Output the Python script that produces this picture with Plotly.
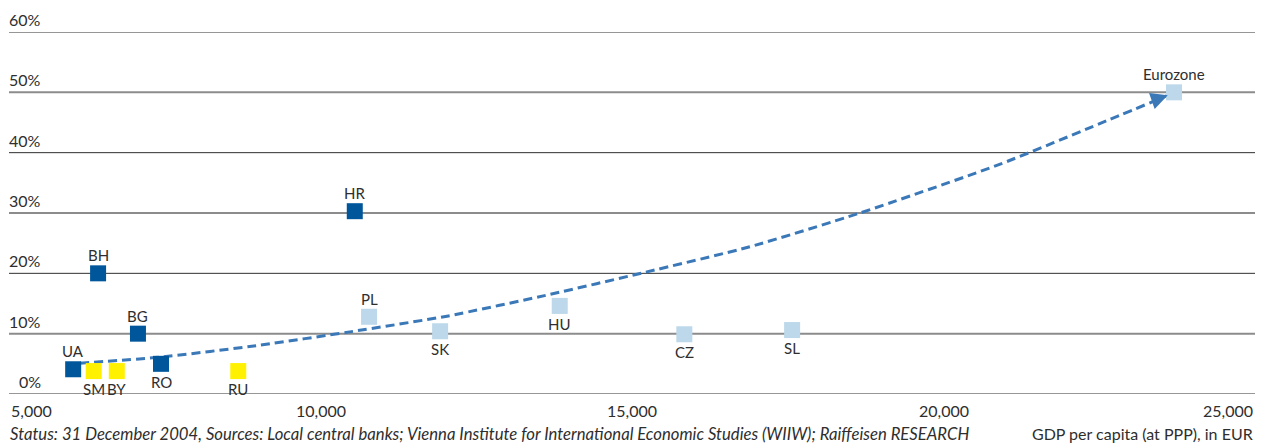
import plotly.graph_objects as go

# ---------------- data ----------------
countries = ["UA", "SM", "BY", "BH", "BG", "RO", "RU", "HR", "PL", "SK", "HU", "CZ", "SL", "Eurozone"]
gdp_per_capita = [6030, 6360, 6730, 6430, 7070, 7440, 8680, 10550, 10780, 11920, 13840, 15840, 17570, 23700]
loans_ratio = [4.1, 3.8, 3.8, 20.0, 10.0, 5.0, 3.8, 30.3, 12.8, 10.4, 14.6, 9.9, 10.6, 50.0]
country_group = ["dark", "yellow", "yellow", "dark", "dark", "dark", "yellow", "dark",
                 "light", "light", "light", "light", "light", "light"]
label_side = ["above", "below", "below", "above", "above", "below", "below", "above",
              "above", "below", "below", "below", "below", "above"]

trend_x = [6140, 7420, 9030, 10470, 12030, 13680, 15180, 16890, 18660, 20910, 22670, 23600]
trend_y = [5.1, 6.1, 8.1, 10.3, 12.9, 16.5, 20.1, 24.4, 30.0, 38.1, 45.5, 49.5]

y_ticks = [0, 10, 20, 30, 40, 50, 60]
y_tick_labels = ["0%", "10%", "20%", "30%", "40%", "50%", "60%"]
x_ticks = [5000, 10000, 15000, 20000, 25000]
x_tick_labels = ["5,000", "10,000", "15,000", "20,000", "25,000"]

source_text = ("Status: 31 December 2004, Sources: Local central banks; Vienna Institute for "
               "International Economic Studies (WIIW); Raiffeisen RESEARCH")
axis_title = "GDP per capita (at PPP), in EUR"

# ---------------- styles ----------------
FONT = "Lato"
TXT = "#2e2e2e"
group_colors = {"dark": "#00569b", "yellow": "#fff100", "light": "#bcd8ea"}
TREND = "#3a78b8"

fig = go.Figure()

# trend line (dashed)
fig.add_trace(go.Scatter(
    x=trend_x, y=trend_y, mode="lines",
    line=dict(color=TREND, width=3, dash="9px,5px", shape="spline", smoothing=0.6),
    hoverinfo="skip", showlegend=False))

# markers by group
for g in ["dark", "yellow", "light"]:
    idx = [i for i, c in enumerate(country_group) if c == g]
    fig.add_trace(go.Scatter(
        x=[gdp_per_capita[i] for i in idx],
        y=[loans_ratio[i] for i in idx],
        text=[countries[i] for i in idx],
        mode="markers",
        marker=dict(symbol="square", size=16, color=group_colors[g], line=dict(width=0)),
        showlegend=False))

annotations = []
shapes = []

# arrowhead at trend end
annotations.append(dict(
    x=trend_x[-1], y=trend_y[-1], xref="x", yref="y",
    ax=-17, ay=6, axref="pixel", ayref="pixel",
    text="", showarrow=True, arrowhead=2, arrowsize=1.3, arrowwidth=2.6,
    arrowcolor=TREND, standoff=0))

# point labels
for name, xv, yv, side in zip(countries, gdp_per_capita, loans_ratio, label_side):
    annotations.append(dict(
        x=xv, y=yv, xref="x", yref="y", text=name, showarrow=False,
        font=dict(family=FONT, size=15, color=TXT),
        yanchor="bottom" if side == "above" else "top",
        yshift=7 if side == "above" else -7))

# gridlines (alternating tone as in the reference)
for k, t in enumerate(y_ticks):
    dark = (k % 2 == 0)
    shapes.append(dict(
        type="line", xref="paper", yref="y", x0=0, x1=1, y0=t, y1=t,
        line=dict(color="#2f2f2f" if dark else "#8c8c8c", width=1 if dark else 2),
        layer="below"))

# y tick labels (above gridlines)
for t, lab in zip(y_ticks, y_tick_labels):
    annotations.append(dict(
        x=0, y=t, xref="paper", yref="y", text=lab, showarrow=False,
        xanchor="right", xshift=34, yanchor="bottom", yshift=1,
        font=dict(family=FONT, size=16, color=TXT)))

# x tick labels
for k, (t, lab) in enumerate(zip(x_ticks, x_tick_labels)):
    anchor = "left" if k == 0 else ("right" if k == len(x_ticks) - 1 else "center")
    annotations.append(dict(
        x=t, y=0, xref="x", yref="paper", text=lab, showarrow=False,
        xanchor=anchor, yanchor="top", yshift=-5,
        font=dict(family=FONT, size=16, color=TXT)))

# footer
annotations.append(dict(
    x=0, y=0, xref="paper", yref="paper", text="<i>" + source_text + "</i>",
    showarrow=False, xanchor="left", xshift=-1, yanchor="top", yshift=-28,
    font=dict(family=FONT, size=16.7, color=TXT)))
annotations.append(dict(
    x=1, y=0, xref="paper", yref="paper", text=axis_title,
    showarrow=False, xanchor="right", yanchor="top", yshift=-28,
    font=dict(family=FONT, size=16, color=TXT)))

# page body has an 8px margin: size the figure to fit the 1265x445 window
fig.update_layout(
    width=1257, height=437,
    margin=dict(l=1, r=10, t=24, b=51),
    paper_bgcolor="white", plot_bgcolor="white",
    xaxis=dict(range=[5000, 25000], showgrid=False, zeroline=False,
               showticklabels=False, ticks="", showline=False, fixedrange=True),
    yaxis=dict(range=[0, 60], showgrid=False, zeroline=False,
               showticklabels=False, ticks="", showline=False, fixedrange=True),
    shapes=shapes, annotations=annotations,
    font=dict(family=FONT, color=TXT),
    showlegend=False)

fig.write_html("out.html")
